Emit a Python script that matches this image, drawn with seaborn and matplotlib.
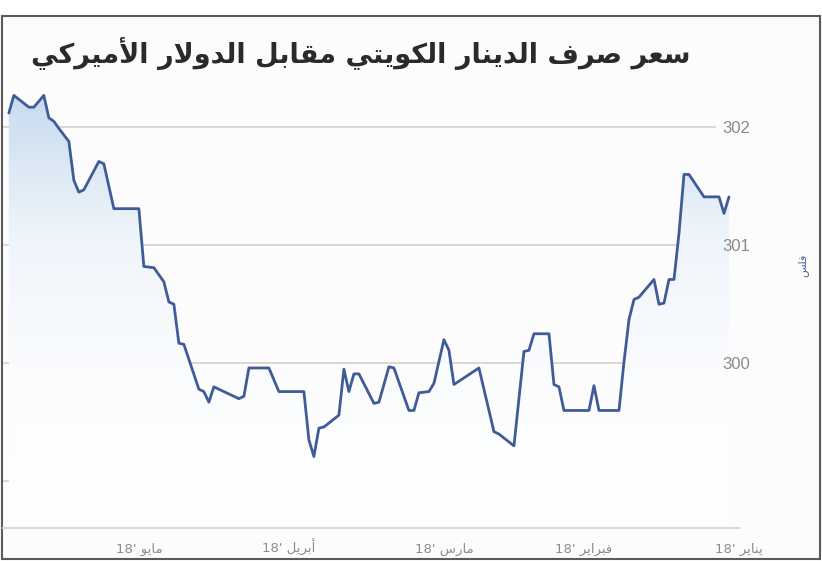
import pandas as pd
import numpy as np
import matplotlib
matplotlib.use('Agg')
import matplotlib.pyplot as plt
import matplotlib.dates as mdates
from matplotlib.colors import LinearSegmentedColormap
from matplotlib.patches import Rectangle
import seaborn as sns

# ==========================================
# DATA (fils per US dollar)
# ==========================================
dates = [
    '2018-05-27', '2018-05-26', '2018-05-23', '2018-05-22', '2018-05-20', '2018-05-19',
    '2018-05-18', '2018-05-17', '2018-05-15', '2018-05-14', '2018-05-13', '2018-05-12',
    '2018-05-09', '2018-05-08', '2018-05-06', '2018-05-01', '2018-04-30', '2018-04-28',
    '2018-04-26', '2018-04-25', '2018-04-24', '2018-04-23', '2018-04-22', '2018-04-19',
    '2018-04-18', '2018-04-17', '2018-04-16', '2018-04-11', '2018-04-10', '2018-04-09',
    '2018-04-05', '2018-04-03', '2018-03-29', '2018-03-28', '2018-03-27', '2018-03-26',
    '2018-03-25', '2018-03-22', '2018-03-21', '2018-03-20', '2018-03-19', '2018-03-18',
    '2018-03-15', '2018-03-14', '2018-03-12', '2018-03-11', '2018-03-08', '2018-03-07',
    '2018-03-06', '2018-03-04', '2018-03-03', '2018-03-01', '2018-02-28', '2018-02-27',
    '2018-02-22', '2018-02-19', '2018-02-18', '2018-02-15', '2018-02-13', '2018-02-12',
    '2018-02-11', '2018-02-08', '2018-02-07', '2018-02-06', '2018-02-05', '2018-01-31',
    '2018-01-30', '2018-01-29', '2018-01-25', '2018-01-24', '2018-01-23', '2018-01-22',
    '2018-01-21', '2018-01-18', '2018-01-17', '2018-01-16', '2018-01-15', '2018-01-14',
    '2018-01-13', '2018-01-12', '2018-01-11', '2018-01-08', '2018-01-05', '2018-01-04',
    '2018-01-03',
]
rates = [
    302.12, 302.27, 302.17, 302.17, 302.27, 302.08,
    302.05, 301.99, 301.88, 301.55, 301.45, 301.47,
    301.71, 301.69, 301.31, 301.31, 300.82, 300.81,
    300.69, 300.52, 300.50, 300.17, 300.16, 299.78,
    299.76, 299.67, 299.80, 299.70, 299.72, 299.96,
    299.96, 299.76, 299.76, 299.35, 299.21, 299.45,
    299.46, 299.56, 299.95, 299.76, 299.91, 299.91,
    299.66, 299.67, 299.97, 299.96, 299.60, 299.60,
    299.75, 299.76, 299.83, 300.20, 300.11, 299.82,
    299.96, 299.42, 299.40, 299.30, 300.10, 300.11,
    300.25, 300.25, 299.82, 299.80, 299.60, 299.60,
    299.81, 299.60, 299.60, 300.01, 300.37, 300.54,
    300.56, 300.71, 300.50, 300.51, 300.71, 300.71,
    301.10, 301.60, 301.60, 301.41, 301.41, 301.27,
    301.41,
]
month_ticks = ['2018-01-01', '2018-02-01', '2018-03-01', '2018-04-01', '2018-05-01']
month_names = ['يناير', 'فبراير', 'مارس', 'أبريل', 'مايو']
ytick_values = [299, 300, 301, 302]
ytick_labels = ['', '300', '301', '302']
title = 'سعر صرف الدينار الكويتي مقابل الدولار الأميركي'
unit_label = 'فلس'

# ==========================================
# small Arabic shaper (matplotlib has no text shaping)
# forms: isolated, final, initial, medial
# ==========================================
FORMS = {
    'ا': ('\ufe8d', '\ufe8e', None, None),
    'أ': ('\ufe83', '\ufe84', None, None),
    'ب': ('\ufe8f', '\ufe90', '\ufe91', '\ufe92'),
    'ت': ('\ufe95', '\ufe96', '\ufe97', '\ufe98'),
    'د': ('\ufea9', '\ufeaa', None, None),
    'ر': ('\ufead', '\ufeae', None, None),
    'س': ('\ufeb1', '\ufeb2', '\ufeb3', '\ufeb4'),
    'ص': ('\ufeb9', '\ufeba', '\ufebb', '\ufebc'),
    'ع': ('\ufec9', '\ufeca', '\ufecb', '\ufecc'),
    'ف': ('\ufed1', '\ufed2', '\ufed3', '\ufed4'),
    'ق': ('\ufed5', '\ufed6', '\ufed7', '\ufed8'),
    'ك': ('\ufed9', '\ufeda', '\ufedb', '\ufedc'),
    'ل': ('\ufedd', '\ufede', '\ufedf', '\ufee0'),
    'م': ('\ufee1', '\ufee2', '\ufee3', '\ufee4'),
    'ن': ('\ufee5', '\ufee6', '\ufee7', '\ufee8'),
    'و': ('\ufeed', '\ufeee', None, None),
    'ي': ('\ufef1', '\ufef2', '\ufef3', '\ufef4'),
}
LAM_ALEF = {'ا': ('\ufefb', '\ufefc'), 'أ': ('\ufef7', '\ufef8')}


def ar(text):
    out = []
    i = 0
    while i < len(text):
        c = text[i]
        if c not in FORMS:
            out.append(c)
            i += 1
            continue
        prev = text[i - 1] if i > 0 else ''
        joins_prev = prev in FORMS and FORMS[prev][2] is not None
        if c == 'ل' and i + 1 < len(text) and text[i + 1] in LAM_ALEF:
            iso, fin = LAM_ALEF[text[i + 1]]
            out.append(fin if joins_prev else iso)
            i += 2
            continue
        nxt = text[i + 1] if i + 1 < len(text) else ''
        iso, fin, ini, med = FORMS[c]
        joins_next = ini is not None and nxt in FORMS
        if joins_prev and joins_next:
            out.append(med)
        elif joins_prev:
            out.append(fin)
        elif joins_next:
            out.append(ini)
        else:
            out.append(iso)
        i += 1
    return ''.join(out)[::-1]


# ==========================================
# PLOT
# ==========================================
sns.set_style('white')
plt.rcParams['font.family'] = ['Liberation Sans', 'DejaVu Sans']

df = pd.DataFrame({'date': pd.to_datetime(dates), 'rate': rates})

fig = plt.figure(figsize=(8.22, 5.61), dpi=100, facecolor='white')
fig.patches.append(Rectangle((2 / 822, 2 / 561), 818 / 822, 543 / 561,
                             transform=fig.transFigure, facecolor='#fcfcfc',
                             edgecolor='#5a5a5a', linewidth=1.5, zorder=-10))

ax = fig.add_axes([3 / 822, 33 / 561, 736 / 822, 443 / 561])
ax.set_facecolor('none')
ax.set_axisbelow(False)

ylo, yhi = 298.604, 302.358
xlo, xhi = pd.Timestamp('2018-05-28 04:00'), pd.Timestamp('2018-01-01')

# gradient fill under the curve
poly = ax.fill_between(df['date'], df['rate'], ylo, color='none')
grad = LinearSegmentedColormap.from_list('g', ['#ffffff', '#f0f5fb', '#c3d9ee'])
yy = np.linspace(0, 1, 256).reshape(-1, 1) ** 1.6
img = ax.imshow(yy, cmap=grad, aspect='auto', origin='lower',
                extent=[mdates.date2num(xhi), mdates.date2num(xlo), ylo, yhi], zorder=1)
img.set_clip_path(poly.get_paths()[0], transform=ax.transData)

for v in ytick_values:
    ax.axhline(v, xmin=0, xmax=0.967, color='#ddd5d0', linewidth=1.4, zorder=0)

sns.lineplot(data=df, x='date', y='rate', ax=ax, color='#3f5c98', linewidth=2.0,
             zorder=3, sort=False)

ax.set_xlim(xlo, xhi)
ax.set_ylim(ylo, yhi)

ax.set_xticks(pd.to_datetime(month_ticks))
ax.set_xticklabels([f"18' {ar(m)}" for m in month_names], family=['DejaVu Sans'],
                   fontsize=9.5, color='#8c8c8c', va='baseline')
ax.tick_params(axis='x', direction='inout', length=7, width=1, color='#d5d5d5', pad=14.5)

ax.yaxis.tick_right()
ax.set_yticks(ytick_values)
ax.set_yticklabels(ytick_labels, fontsize=12, color='#8a8a8a')
ax.tick_params(axis='y', length=0, pad=-12)

for s in ['top', 'left', 'right']:
    ax.spines[s].set_visible(False)
ax.spines['bottom'].set_color('#d8d8d8')
ax.spines['bottom'].set_linewidth(1.4)
ax.set_xlabel('')
ax.set_ylabel('')

fig.text(690 / 822, 1 - 53 / 561, ar(title), ha='right', va='center',
         fontsize=19.5, fontweight='bold', color='#2a2a2a', family=['DejaVu Sans'])
fig.text(803 / 822, 1 - 265 / 561, ar(unit_label), ha='center', va='center',
         rotation=90, fontsize=8, color='#4f6a9a', family=['DejaVu Sans'])

fig.savefig('out.png', dpi=100)
